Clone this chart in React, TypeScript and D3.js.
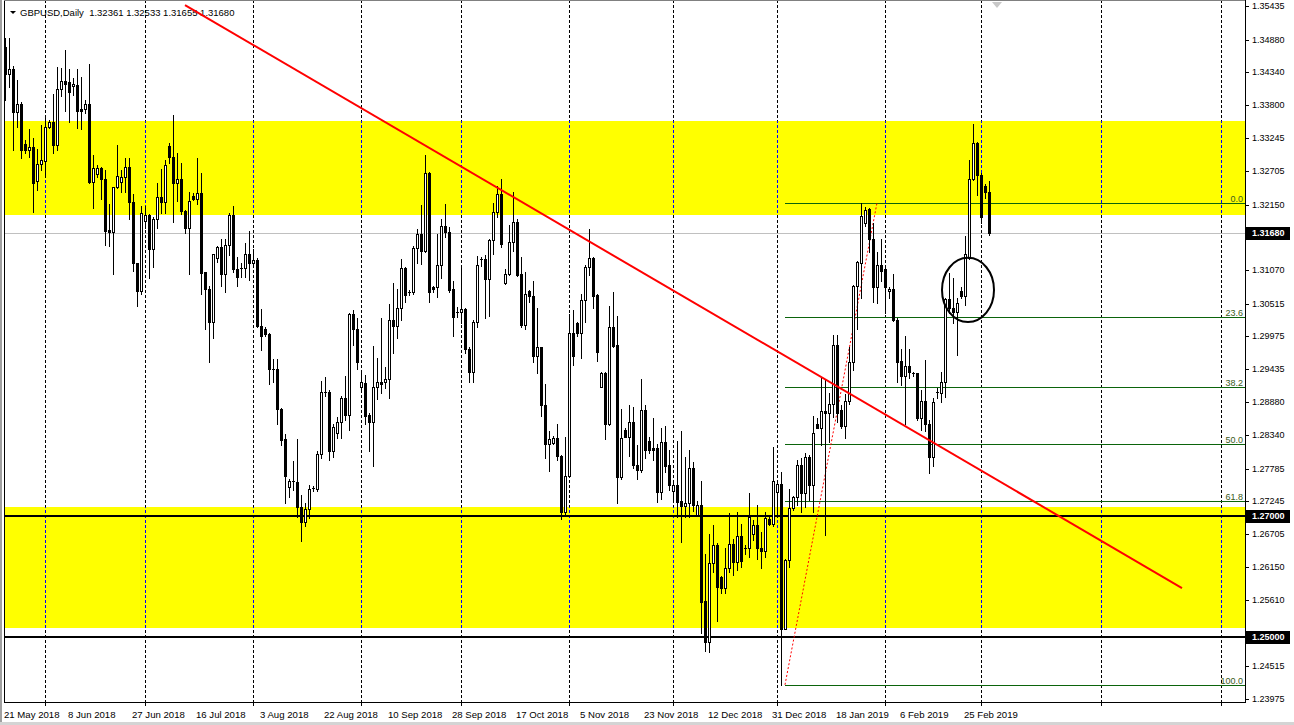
import * as d3 from 'd3';
import React from 'react';

// GBPUSD daily bars, 21 May 2018 .. 4 Mar 2019 (broker with Sunday bars)
const openPrices = [
  1.3476, 1.3431, 1.3440, 1.3369, 1.3381, 1.3315, 1.3306, 1.3310, 1.3254, 1.3283,
  1.3288, 1.3344, 1.3352, 1.3314, 1.3406, 1.3419, 1.3417, 1.3412, 1.3413, 1.3373,
  1.3373, 1.3381, 1.3253, 1.3265, 1.3276, 1.3257, 1.3173, 1.3170, 1.3244, 1.3252,
  1.3261, 1.3277, 1.3219, 1.3118, 1.3073, 1.3188, 1.3198, 1.3141, 1.3192, 1.3227,
  1.3220, 1.3312, 1.3293, 1.3251, 1.3257, 1.3205, 1.3177, 1.3229, 1.3225, 1.3235,
  1.3103, 1.3076, 1.3021, 1.3126, 1.3145, 1.3101, 1.3148, 1.3198, 1.3108, 1.3111,
  1.3110, 1.3134, 1.3118, 1.3124, 1.3015, 1.3009, 1.3001, 1.2944, 1.2944, 1.2877,
  1.2827, 1.2748, 1.2758, 1.2757, 1.2715, 1.2691, 1.2711, 1.2747, 1.2745, 1.2803,
  1.2905, 1.2905, 1.2808, 1.2838, 1.2856, 1.2896, 1.2867, 1.3034, 1.3010, 1.2914,
  1.2920, 1.2867, 1.2856, 1.2913, 1.2922, 1.2921, 1.2927, 1.3025, 1.3015, 1.3044,
  1.3110, 1.3070, 1.3070, 1.3144, 1.3166, 1.3139, 1.3268, 1.3079, 1.3078, 1.3115,
  1.3179, 1.3170, 1.3075, 1.3038, 1.3037, 1.3042, 1.2977, 1.2939, 1.3021, 1.3125,
  1.3125, 1.3092, 1.3157, 1.3203, 1.3232, 1.3085, 1.3100, 1.3153, 1.3186, 1.3100,
  1.3016, 1.3072, 1.3064, 1.2964, 1.2979, 1.2884, 1.2819, 1.2821, 1.2829, 1.2800,
  1.2706, 1.2766, 1.3002, 1.3020, 1.3003, 1.3057, 1.3112, 1.3126, 1.3066, 1.2914,
  1.2936, 1.2852, 1.3013, 1.2983, 1.2764, 1.2843, 1.2831, 1.2855, 1.2784, 1.2776,
  1.2875, 1.2824, 1.2812, 1.2812, 1.2740, 1.2822, 1.2784, 1.2742, 1.2751, 1.2725,
  1.2717, 1.2722, 1.2779, 1.2701, 1.2718, 1.2559, 1.2491, 1.2623, 1.2652, 1.2600,
  1.2581, 1.2614, 1.2653, 1.2624, 1.2667, 1.2645, 1.2648, 1.2670, 1.2685, 1.2647,
  1.2643, 1.2695, 1.2687, 1.2739, 1.2753, 1.2514, 1.2627, 1.2714, 1.2731, 1.2784,
  1.2738, 1.2798, 1.2751, 1.2852, 1.2846, 1.2874, 1.2870, 1.2886, 1.2983, 1.2875,
  1.2849, 1.2890, 1.2954, 1.3080, 1.3118, 1.3184, 1.3207, 1.3159, 1.3078, 1.3115,
  1.3109, 1.3072, 1.3075, 1.3025, 1.2956, 1.2932, 1.2948, 1.2936, 1.2936, 1.2862,
  1.2890, 1.2853, 1.2797, 1.2905, 1.2904, 1.2922, 1.3059, 1.3044, 1.3038, 1.3072,
  1.3064, 1.3127, 1.3257, 1.3317, 1.3264, 1.3246, 1.32361,
];

const highPrices = [
  1.3491, 1.3490, 1.3444, 1.3421, 1.3384, 1.3322, 1.3340, 1.3325, 1.3307, 1.3346,
  1.3360, 1.3355, 1.3398, 1.3443, 1.3441, 1.3471, 1.3439, 1.3424, 1.3440, 1.3426,
  1.3388, 1.3448, 1.3297, 1.3281, 1.3277, 1.3272, 1.3216, 1.3245, 1.3314, 1.3272,
  1.3292, 1.3292, 1.3232, 1.3119, 1.3212, 1.3213, 1.3200, 1.3195, 1.3250, 1.3274,
  1.3289, 1.3317, 1.3363, 1.3300, 1.3284, 1.3206, 1.3236, 1.3234, 1.3292, 1.3268,
  1.3104, 1.3081, 1.3134, 1.3147, 1.3158, 1.3158, 1.3202, 1.3213, 1.3129, 1.3119,
  1.3151, 1.3172, 1.3141, 1.3126, 1.3042, 1.3012, 1.3003, 1.2959, 1.2959, 1.2878,
  1.2835, 1.2762, 1.2791, 1.2827, 1.2735, 1.2721, 1.2751, 1.2750, 1.2807, 1.2924,
  1.2930, 1.2908, 1.2853, 1.2864, 1.2899, 1.2932, 1.3036, 1.3041, 1.3027, 1.2936,
  1.2933, 1.2871, 1.2981, 1.2961, 1.3027, 1.2947, 1.3050, 1.3085, 1.3075, 1.3125,
  1.3112, 1.3074, 1.3147, 1.3174, 1.3214, 1.3297, 1.3269, 1.3081, 1.3166, 1.3192,
  1.3216, 1.3178, 1.3089, 1.3046, 1.3110, 1.3044, 1.2980, 1.3024, 1.3130, 1.3129,
  1.3132, 1.3159, 1.3217, 1.3246, 1.3257, 1.3108, 1.3181, 1.3236, 1.3191, 1.3129,
  1.3104, 1.3074, 1.3088, 1.3044, 1.2980, 1.2918, 1.2840, 1.2833, 1.2852, 1.2801,
  1.2831, 1.3034, 1.3041, 1.3021, 1.3068, 1.3115, 1.3174, 1.3128, 1.3068, 1.2939,
  1.2939, 1.3047, 1.3071, 1.3031, 1.2877, 1.2845, 1.2884, 1.2881, 1.2818, 1.2926,
  1.2884, 1.2831, 1.2863, 1.2820, 1.2845, 1.2849, 1.2809, 1.2754, 1.2824, 1.2840,
  1.2798, 1.2810, 1.2790, 1.2725, 1.2758, 1.2637, 1.2670, 1.2685, 1.2655, 1.2601,
  1.2647, 1.2705, 1.2662, 1.2707, 1.2687, 1.2652, 1.2738, 1.2694, 1.2718, 1.2673,
  1.2707, 1.2699, 1.2815, 1.2754, 1.2773, 1.2629, 1.2744, 1.2733, 1.2793, 1.2796,
  1.2804, 1.2801, 1.2866, 1.2863, 1.2928, 1.2925, 1.2903, 1.2999, 1.2999, 1.2884,
  1.2902, 1.2980, 1.3082, 1.3121, 1.3217, 1.3211, 1.3209, 1.3184, 1.3137, 1.3159,
  1.3110, 1.3079, 1.3101, 1.3027, 1.2977, 1.2997, 1.2977, 1.2939, 1.2937, 1.2908,
  1.2958, 1.2859, 1.2896, 1.2912, 1.2938, 1.3061, 1.3102, 1.3094, 1.3061, 1.3079,
  1.3163, 1.3289, 1.3348, 1.3319, 1.3267, 1.3249, 1.32533,
];

const lowPrices = [
  1.3388, 1.3410, 1.3305, 1.3344, 1.3292, 1.3301, 1.3294, 1.3203, 1.3239, 1.3272,
  1.3261, 1.3341, 1.3300, 1.3305, 1.3395, 1.3370, 1.3352, 1.3396, 1.3341, 1.3340,
  1.3366, 1.3250, 1.3210, 1.3261, 1.3224, 1.3148, 1.3147, 1.3101, 1.3242, 1.3236,
  1.3236, 1.3192, 1.3105, 1.3048, 1.3068, 1.3176, 1.3093, 1.3112, 1.3176, 1.3201,
  1.3202, 1.3284, 1.3187, 1.3221, 1.3200, 1.3168, 1.3101, 1.3223, 1.3216, 1.3067,
  1.3009, 1.2955, 1.2994, 1.3120, 1.3081, 1.3070, 1.3131, 1.3104, 1.3081, 1.3096,
  1.3096, 1.3090, 1.3114, 1.3012, 1.2974, 1.2997, 1.2918, 1.2922, 1.2853, 1.2818,
  1.2722, 1.2732, 1.2743, 1.2699, 1.2659, 1.2684, 1.2696, 1.2741, 1.2741, 1.2796,
  1.2898, 1.2793, 1.2798, 1.2829, 1.2829, 1.2859, 1.2843, 1.2983, 1.2943, 1.2907,
  1.2853, 1.2808, 1.2783, 1.2894, 1.2903, 1.2911, 1.2896, 1.2969, 1.2994, 1.3024,
  1.3054, 1.3066, 1.3068, 1.3118, 1.3117, 1.3137, 1.3054, 1.3070, 1.3063, 1.3093,
  1.3162, 1.3071, 1.2998, 1.3029, 1.3020, 1.2969, 1.2922, 1.2921, 1.3013, 1.3114,
  1.3027, 1.3031, 1.3134, 1.3195, 1.3145, 1.3084, 1.3099, 1.3139, 1.3097, 1.3013,
  1.3009, 1.3054, 1.2955, 1.2936, 1.2866, 1.2796, 1.2775, 1.2820, 1.2793, 1.2695,
  1.2702, 1.2764, 1.2950, 1.2997, 1.2962, 1.3021, 1.3099, 1.3044, 1.2957, 1.2913,
  1.2827, 1.2850, 1.2980, 1.2722, 1.2762, 1.2830, 1.2800, 1.2779, 1.2762, 1.2773,
  1.2796, 1.2804, 1.2793, 1.2724, 1.2729, 1.2773, 1.2743, 1.2727, 1.2699, 1.2657,
  1.2699, 1.2699, 1.2709, 1.2700, 1.2506, 1.2477, 1.2475, 1.2608, 1.2527, 1.2572,
  1.2572, 1.2608, 1.2603, 1.2611, 1.2616, 1.2638, 1.2633, 1.2660, 1.2629, 1.2614,
  1.2633, 1.2685, 1.2683, 1.2699, 1.2421, 1.2513, 1.2615, 1.2710, 1.2718, 1.2706,
  1.2715, 1.2727, 1.2707, 1.2845, 1.2818, 1.2669, 1.2823, 1.2864, 1.2856, 1.2845,
  1.2829, 1.2886, 1.2942, 1.3010, 1.3060, 1.3179, 1.3137, 1.3054, 1.3053, 1.3088,
  1.3036, 1.3060, 1.3023, 1.2922, 1.2917, 1.2853, 1.2928, 1.2932, 1.2859, 1.2842,
  1.2840, 1.2772, 1.2783, 1.2895, 1.2889, 1.2897, 1.3036, 1.3019, 1.2966, 1.3061,
  1.3049, 1.3125, 1.3256, 1.3231, 1.3185, 1.3226, 1.31655,
];

const closePrices = [
  1.3431, 1.3439, 1.3368, 1.3381, 1.3306, 1.3306, 1.3310, 1.3251, 1.3283, 1.3289,
  1.3343, 1.3352, 1.3314, 1.3406, 1.3419, 1.3414, 1.3402, 1.3414, 1.3370, 1.3370,
  1.3381, 1.3253, 1.3276, 1.3276, 1.3257, 1.3172, 1.3170, 1.3244, 1.3263, 1.3261,
  1.3277, 1.3219, 1.3118, 1.3073, 1.3201, 1.3198, 1.3141, 1.3192, 1.3227, 1.3220,
  1.3281, 1.3293, 1.3251, 1.3257, 1.3205, 1.3177, 1.3221, 1.3225, 1.3235, 1.3102,
  1.3076, 1.3021, 1.3133, 1.3145, 1.3101, 1.3148, 1.3198, 1.3108, 1.3096, 1.3111,
  1.3134, 1.3118, 1.3124, 1.3015, 1.2998, 1.3001, 1.2943, 1.2943, 1.2877, 1.2826,
  1.2767, 1.2758, 1.2757, 1.2715, 1.2691, 1.2711, 1.2744, 1.2744, 1.2803, 1.2905,
  1.2903, 1.2808, 1.2847, 1.2856, 1.2896, 1.2867, 1.3034, 1.3010, 1.2955, 1.2921,
  1.2866, 1.2856, 1.2913, 1.2922, 1.2918, 1.2927, 1.3025, 1.3015, 1.3044, 1.3110,
  1.3066, 1.3070, 1.3144, 1.3166, 1.3139, 1.3268, 1.3070, 1.3076, 1.3115, 1.3179,
  1.3169, 1.3074, 1.3029, 1.3037, 1.3042, 1.2977, 1.2939, 1.3021, 1.3115, 1.3125,
  1.3092, 1.3157, 1.3203, 1.3232, 1.3150, 1.3101, 1.3153, 1.3186, 1.3099, 1.3016,
  1.3067, 1.3064, 1.2964, 1.2979, 1.2883, 1.2819, 1.2827, 1.2829, 1.2800, 1.2706,
  1.2766, 1.3002, 1.2964, 1.3002, 1.3057, 1.3112, 1.3126, 1.3064, 1.2972, 1.2936,
  1.2853, 1.3013, 1.2982, 1.2764, 1.2829, 1.2831, 1.2855, 1.2784, 1.2776, 1.2875,
  1.2809, 1.2810, 1.2809, 1.2740, 1.2822, 1.2783, 1.2751, 1.2751, 1.2724, 1.2717,
  1.2722, 1.2779, 1.2718, 1.2718, 1.2558, 1.2491, 1.2623, 1.2652, 1.2583, 1.2581,
  1.2614, 1.2653, 1.2624, 1.2667, 1.2626, 1.2648, 1.2699, 1.2685, 1.2647, 1.2643,
  1.2696, 1.2687, 1.2758, 1.2753, 1.2514, 1.2627, 1.2714, 1.2731, 1.2784, 1.2738,
  1.2798, 1.2751, 1.2837, 1.2846, 1.2874, 1.2870, 1.2886, 1.2983, 1.2871, 1.2849,
  1.2890, 1.2954, 1.3080, 1.3120, 1.3196, 1.3206, 1.3159, 1.3078, 1.3115, 1.3106,
  1.3079, 1.3075, 1.3024, 1.2955, 1.2932, 1.2948, 1.2938, 1.2936, 1.2862, 1.2890,
  1.2853, 1.2797, 1.2889, 1.2905, 1.2922, 1.3059, 1.3044, 1.3038, 1.3052, 1.3064,
  1.3133, 1.3257, 1.3317, 1.3264, 1.3195, 1.3236, 1.3168,
];

const priceTicks = [
  1.35435, 1.3488, 1.3434, 1.338, 1.33245, 1.32705, 1.3215, 1.3161, 1.3107, 1.30515, 1.29975,
  1.29435, 1.2888, 1.2834, 1.27785, 1.27245, 1.26705, 1.2615, 1.2561, 1.2507, 1.24515, 1.23975,
];

const dateLabels = [
  '21 May 2018', '8 Jun 2018', '27 Jun 2018', '16 Jul 2018', '3 Aug 2018', '22 Aug 2018',
  '10 Sep 2018', '28 Sep 2018', '17 Oct 2018', '5 Nov 2018', '23 Nov 2018', '12 Dec 2018',
  '31 Dec 2018', '18 Jan 2019', '6 Feb 2019', '25 Feb 2019',
];

const headerText = 'GBPUSD,Daily  1.32361 1.32533 1.31655 1.31680';

// drawn objects
const zones = [
  { top: 1.3353, bottom: 1.3198 },
  { top: 1.2715, bottom: 1.2515 },
];
const levelLines = [1.27, 1.25];
const bidPrice = 1.3168;
const trendBars = [45, 294.25];
const trendPrices = [1.3545, 1.2581];
const fibBars = [195, 218];
const fibPrices = [1.2421, 1.3218]; // 100 -> 0
const fibLevels = [0, 23.6, 38.2, 50, 61.8, 100];
const circleBars = [234.25, 247.25];
const circlePrices = [1.3127, 1.3021];
const shiftMarkerBar = 248;

const monthNames = ['Jan', 'Feb', 'Mar', 'Apr', 'May', 'Jun', 'Jul', 'Aug', 'Sep', 'Oct', 'Nov', 'Dec'];
const fmtDate = (d: Date) => `${d.getDate()} ${monthNames[d.getMonth()]} ${d.getFullYear()}`;

// trading days are Sun..Fri; after the last bar the terminal extrapolates calendar days
const barDates: Date[] = (() => {
  const out: Date[] = [];
  const d = new Date(2018, 4, 21);
  while (out.length < closePrices.length) {
    if (d.getDay() !== 6) out.push(new Date(d));
    d.setDate(d.getDate() + 1);
  }
  while (out.length < 320) {
    out.push(new Date(d));
    d.setDate(d.getDate() + 1);
  }
  return out;
})();

const font = '"Liberation Sans", Arial, sans-serif';

export default function App() {
  const width = 1294;
  const height = 725;
  const plot = { left: 4, right: 1245, top: 0, bottom: 702 };

  const x = d3.scaleLinear().domain([0, 310]).range([5, 5 + 4 * 310]);
  const y = d3.scaleLinear().domain([1.23975, 1.35435]).range([699, 6]);
  const px = (i: number) => Math.round(x(i));
  const py = (p: number) => Math.round(y(p));

  const gridBars = d3
    .range(1, barDates.length)
    .filter((i) => barDates[i].getMonth() !== barDates[i - 1].getMonth())
    .filter((i) => px(i) < plot.right);

  const labelBars = dateLabels.map((lbl) => barDates.findIndex((d) => fmtDate(d) === lbl));

  const boxedPrices = [bidPrice, ...levelLines];
  // tick labels hidden behind the black price boxes are not printed
  const visibleTicks = priceTicks.filter((p) => boxedPrices.every((b) => Math.abs(py(p) - py(b)) > 8));

  const fibRange = fibPrices[1] - fibPrices[0];
  const fibLeft = px(fibBars[0]);

  const dash = '3,2';
  const sx = px(shiftMarkerBar);

  return (
    <svg
      width={width}
      height={height}
      style={{ position: 'absolute', left: 0, top: 0, display: 'block', background: '#fff' }}
      fontFamily={font}
    >
      <defs>
        <clipPath id="plotClip">
          <rect x={plot.left} y={plot.top} width={plot.right - plot.left} height={plot.bottom - plot.top} />
        </clipPath>
      </defs>
      <rect x={0} y={0} width={width} height={height} fill="#fff" />

      <g clipPath="url(#plotClip)">
        {/* support / resistance zones */}
        {zones.map((z, i) => (
          <rect
            key={'z' + i}
            x={plot.left}
            y={py(z.top)}
            width={plot.right - plot.left}
            height={py(z.bottom) - py(z.top)}
            fill="#ffff00"
          />
        ))}

        {/* month grid */}
        {gridBars.map((b) => (
          <g key={'g' + b}>
            <line
              x1={px(b) + 0.5}
              x2={px(b) + 0.5}
              y1={plot.top}
              y2={plot.bottom}
              stroke="#000"
              strokeDasharray={dash}
              shapeRendering="crispEdges"
            />
            {zones.map((z, i) => (
              <line
                key={i}
                x1={px(b) + 0.5}
                x2={px(b) + 0.5}
                y1={py(z.top)}
                y2={py(z.bottom)}
                stroke="#0000ff"
                strokeDasharray={dash}
                strokeDashoffset={py(z.top) % 5}
                shapeRendering="crispEdges"
              />
            ))}
          </g>
        ))}

        {/* bid line */}
        <line x1={plot.left} x2={plot.right} y1={py(bidPrice) + 0.5} y2={py(bidPrice) + 0.5} stroke="#c0c0c0" shapeRendering="crispEdges" />

        {/* round number levels */}
        {levelLines.map((p) => (
          <line key={'l' + p} x1={plot.left} x2={plot.right} y1={py(p)} y2={py(p)} stroke="#000" strokeWidth={2} shapeRendering="crispEdges" />
        ))}

        {/* fibonacci retracement */}
        {fibLevels.map((lv) => {
          const yy = py(fibPrices[1] - (fibRange * lv) / 100) + 0.5;
          return (
            <g key={'f' + lv}>
              <line x1={fibLeft} x2={plot.right} y1={yy} y2={yy} stroke="#0b640b" shapeRendering="crispEdges" />
              <text x={plot.right - 2} y={yy - 2} textAnchor="end" fontSize={9} fill="#3a5a20">
                {lv.toFixed(1)}
              </text>
            </g>
          );
        })}
        <line
          x1={x(fibBars[0])}
          y1={y(fibPrices[0])}
          x2={x(fibBars[1])}
          y2={y(fibPrices[1])}
          stroke="#ff0000"
          strokeDasharray="2,2"
        />

        {/* candles */}
        <g shapeRendering="crispEdges">
          {closePrices.map((c, i) => {
            const o = openPrices[i];
            const cx = px(i);
            const top = py(Math.max(o, c));
            const bot = py(Math.min(o, c));
            const up = c >= o;
            return (
              <g key={'c' + i}>
                <line x1={cx + 0.5} x2={cx + 0.5} y1={py(highPrices[i])} y2={py(lowPrices[i]) + 1} stroke="#000" />
                {bot - top < 2 ? (
                  <rect x={cx - 1} y={top} width={3} height={Math.max(bot - top, 1)} fill="#000" />
                ) : up ? (
                  <rect x={cx - 0.5} y={top + 0.5} width={2} height={bot - top} fill="#fff" stroke="#000" />
                ) : (
                  <rect x={cx - 1} y={top} width={3} height={bot - top + 1} fill="#000" />
                )}
              </g>
            );
          })}
        </g>

        {/* header */}
        <path d="M10,11 L16,11 L13,14 Z" fill="#000" />
        <text x={20} y={16} fontSize={9.5} fill="#000" style={{ whiteSpace: 'pre' }}>
          {headerText}
        </text>

        {/* downtrend line */}
        <line
          x1={x(trendBars[0])}
          y1={y(trendPrices[0])}
          x2={x(trendBars[1])}
          y2={y(trendPrices[1])}
          stroke="#ff0000"
          strokeWidth={2}
        />

        {/* highlight ellipse */}
        <ellipse
          cx={(x(circleBars[0]) + x(circleBars[1])) / 2}
          cy={(y(circlePrices[0]) + y(circlePrices[1])) / 2}
          rx={(x(circleBars[1]) - x(circleBars[0])) / 2}
          ry={(y(circlePrices[1]) - y(circlePrices[0])) / 2}
          fill="none"
          stroke="#000"
          strokeWidth={2}
        />

        {/* chart shift marker */}
        <path d={`M${sx - 5},2 L${sx + 5},2 L${sx},8 Z`} fill="#c8c8c8" />
      </g>

      {/* frame */}
      <rect x={0} y={0} width={2} height={height} fill="#a0a0a0" />
      <line x1={plot.left + 0.5} x2={plot.left + 0.5} y1={0} y2={plot.bottom} stroke="#000" shapeRendering="crispEdges" />
      <line x1={plot.left} x2={plot.right} y1={0.5} y2={0.5} stroke="#808080" shapeRendering="crispEdges" />
      <line x1={plot.right + 0.5} x2={plot.right + 0.5} y1={0} y2={plot.bottom + 1} stroke="#000" shapeRendering="crispEdges" />
      <line x1={plot.left} x2={plot.right + 1} y1={plot.bottom + 0.5} y2={plot.bottom + 0.5} stroke="#000" shapeRendering="crispEdges" />
      <rect x={0} y={height - 3} width={width} height={3} fill="#d4d4d4" />

      {/* price axis */}
      {priceTicks.map((p) => (
        <line key={'tk' + p} x1={plot.right} x2={plot.right + 4} y1={py(p) + 0.5} y2={py(p) + 0.5} stroke="#000" shapeRendering="crispEdges" />
      ))}
      {visibleTicks.map((p) => (
        <text key={'t' + p} x={plot.right + 7} y={py(p)} dy="0.35em" fontSize={9} fill="#000">
          {p.toFixed(5)}
        </text>
      ))}
      {boxedPrices.map((p) => (
        <g key={'b' + p}>
          <rect x={plot.right + 1} y={py(p) - 6} width={44} height={13} fill="#000" />
          <text x={plot.right + 7} y={py(p)} dy="0.38em" fontSize={9} fill="#fff" fontWeight="bold">
            {p.toFixed(5)}
          </text>
        </g>
      ))}

      {/* time axis */}
      {gridBars.map((b) => (
        <line key={'tt' + b} x1={px(b) + 0.5} x2={px(b) + 0.5} y1={plot.bottom} y2={plot.bottom + 4} stroke="#000" shapeRendering="crispEdges" />
      ))}
      {labelBars.map((b, i) => (
        <text key={'d' + i} x={px(b) - 1} y={718} fontSize={9.6} fill="#000">
          {dateLabels[i]}
        </text>
      ))}
    </svg>
  );
}
